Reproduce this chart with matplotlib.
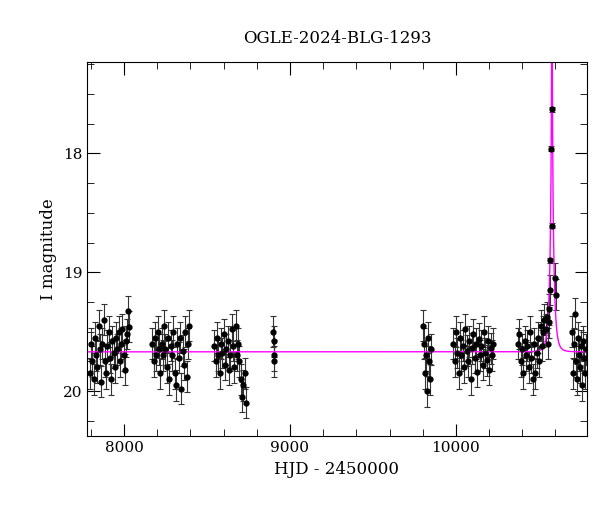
import numpy as np
import matplotlib
matplotlib.use("Agg")
import matplotlib.pyplot as plt
from matplotlib.ticker import MultipleLocator

# dados (HJD - 2450000, magnitude I)
t1 = [7795,7802,7810,7818,7825,7833,7840,7848,7856,7863,7870,7878,7886,7893,7900,7908,7915,7923,7930,7938,7946,7953,7960,7968,7975,7983,7990,7998,8005,8012,8020,8025,8032]
m1 = [19.85,19.6,19.75,19.9,19.55,19.7,19.8,19.45,19.65,19.92,19.6,19.4,19.75,19.85,19.62,19.5,19.72,19.9,19.58,19.68,19.8,19.55,19.65,19.5,19.75,19.6,19.48,19.7,19.82,19.58,19.52,19.33,19.46]
t2 = [8170,8178,8186,8194,8202,8210,8218,8226,8234,8242,8250,8258,8266,8274,8282,8290,8298,8306,8314,8322,8330,8338,8346,8354,8362,8370,8378,8386,8394]
m2 = [19.6,19.75,19.55,19.7,19.5,19.65,19.85,19.6,19.7,19.45,19.65,19.8,19.55,19.9,19.62,19.7,19.5,19.85,19.95,19.6,19.72,19.55,19.98,19.66,19.78,19.5,19.88,19.6,19.45]
t3 = [8545,8552,8560,8568,8576,8584,8592,8600,8608,8616,8624,8632,8640,8648,8656,8664,8672,8680,8688,8696,8704,8712,8720,8728,8736]
m3 = [19.62,19.75,19.55,19.7,19.85,19.6,19.68,19.52,19.78,19.65,19.58,19.82,19.7,19.48,19.62,19.8,19.45,19.7,19.6,19.75,19.9,20.05,19.95,19.85,20.1]
t4 = [8900,8902,8904,8906]
m4 = [19.5,19.58,19.7,19.75]
t5 = [9800,9806,9812,9818,9824,9830,9836,9842,9848]
m5 = [19.45,19.6,19.85,19.7,20.0,19.55,19.75,19.9,19.65]
t6 = [9985,9993,10001,10009,10017,10025,10033,10041,10049,10057,10065,10073,10081,10089,10097,10105,10113,10121,10129,10137,10145,10153,10161,10169,10177,10185,10193,10201,10209,10217,10225]
m6 = [19.6,19.75,19.5,19.68,19.85,19.55,19.7,19.62,19.8,19.48,19.66,19.75,19.58,19.9,19.64,19.52,19.72,19.6,19.84,19.56,19.7,19.62,19.78,19.5,19.68,19.74,19.58,19.82,19.64,19.7,19.6]
t7 = [10375,10382,10390,10398,10406,10414,10422,10430,10438,10446,10454,10462,10470,10478,10486,10494,10502,10510,10518,10526,10534,10542,10550,10556,10560,10563,10566,10569,10576,10578,10582,10600,10603]
m7 = [19.6,19.52,19.75,19.65,19.85,19.58,19.7,19.62,19.8,19.5,19.72,19.9,19.6,19.85,19.68,19.55,19.75,19.45,19.62,19.5,19.4,19.48,19.38,19.6,19.42,19.31,19.15,18.9,17.96,17.63,18.61,19.05,19.19]
t8 = [10700,10706,10712,10718,10724,10730,10736,10742,10748,10754,10760,10766,10772,10778,10784]
m8 = [19.5,19.85,19.6,19.35,19.75,19.9,19.55,19.7,19.8,19.62,19.95,19.58,19.72,19.85,19.65]

# parametros do modelo (Paczynski)
t0, tE, u0, I0 = 10579.0, 22.0, 0.05, 19.67

t = np.array(t1 + t2 + t3 + t4 + t5 + t6 + t7 + t8, dtype=float)
m = np.array(m1 + m2 + m3 + m4 + m5 + m6 + m7 + m8)
err = np.where(m > 19.0, 0.13, 0.02)

tm = np.linspace(7780, 10790, 6000)
u = np.sqrt(u0**2 + ((tm - t0) / tE)**2)
A = (u**2 + 2) / (u * np.sqrt(u**2 + 4))
mm = I0 - 2.5 * np.log10(A)

plt.rcParams["font.family"] = "DejaVu Serif"
fig = plt.figure(figsize=(6, 5.12), dpi=100)
ax = fig.add_axes([0.145, 0.148, 0.833, 0.73])
ax.errorbar(t, m, yerr=err, fmt="o", ms=3.5, color="black", ecolor="#333333",
            elinewidth=0.8, capsize=2, capthick=0.8)
ax.plot(tm, mm, color="magenta", lw=1)
ax.set_xlim(7777, 10789)
ax.set_ylim(20.38, 17.235)
ax.xaxis.set_major_locator(MultipleLocator(1000))
ax.xaxis.set_minor_locator(MultipleLocator(200))
ax.yaxis.set_major_locator(MultipleLocator(1))
ax.yaxis.set_minor_locator(MultipleLocator(0.25))
ax.tick_params(which="both", direction="in", top=True, right=True, labelsize=11)
ax.tick_params(which="major", length=9)
ax.tick_params(which="minor", length=5)
ax.set_xlabel("HJD - 2450000", fontsize=12)
ax.set_ylabel("I magnitude", fontsize=12)
ax.set_title("OGLE-2024-BLG-1293", fontsize=12, pad=14)
fig.savefig("out.png")
